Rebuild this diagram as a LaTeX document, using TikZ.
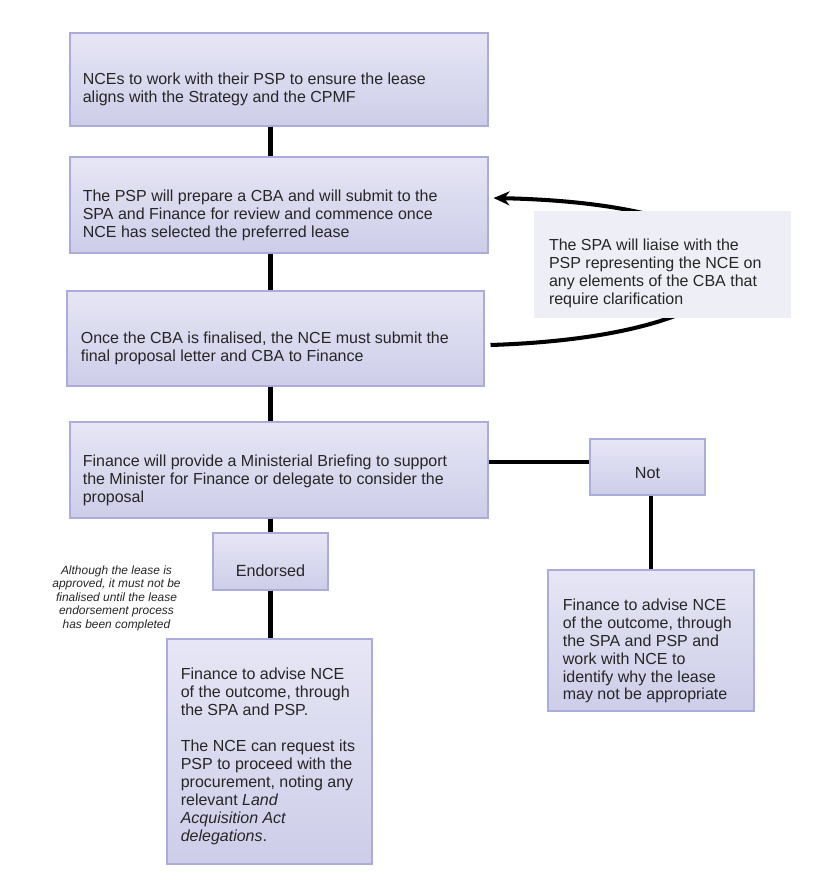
\documentclass[tikz,border=0pt]{standalone}
\usepackage{fontspec}
\setmainfont{Liberation Sans}
\usetikzlibrary{arrows.meta,positioning,calc}
\definecolor{boxtop}{RGB}{230,230,245}
\definecolor{boxbot}{RGB}{205,205,233}
\definecolor{boxline}{RGB}{172,172,220}
\definecolor{notefill}{RGB}{238,238,247}
\definecolor{txtgray}{RGB}{38,38,38}
\tikzset{
  stepbox/.style={draw=boxline, line width=0.6pt, top color=boxtop, bottom color=boxbot, inner sep=0pt},
  notebox/.style={fill=notefill, inner sep=0pt},
  boxtext/.style={inner sep=0pt, align=left, text=txtgray, font=\fontsize{9.1}{10.2}\selectfont},
  link/.style={line width=2.8pt, black},
}

\begin{document}
\begin{tikzpicture}
\useasboundingbox (0,0) rectangle (16.68,-17.66);
% main column
\node[stepbox, minimum width=8.36cm, minimum height=1.86cm] (b1) at (5.58 cm,-1.59cm) {};
\node[stepbox, minimum width=8.36cm, minimum height=1.92cm] (b2) at (5.58 cm,-4.10cm) {};
\node[stepbox, minimum width=8.34cm, minimum height=1.90cm] (b3) at (5.51 cm,-6.77cm) {};
\node[stepbox, minimum width=8.36cm, minimum height=1.92cm] (b4) at (5.58 cm,-9.40cm) {};
\node[stepbox, minimum width=2.30cm, minimum height=1.14cm] (endorsed) at (5.41 cm,-11.23cm) {};
\node[stepbox, minimum width=4.10cm, minimum height=4.50cm] (yes) at (5.39 cm,-15.03cm) {};
% right branch
\node[stepbox, minimum width=2.30cm, minimum height=1.12cm] (notok) at (12.95 cm,-9.34cm) {};
\node[stepbox, minimum width=4.12cm, minimum height=2.82cm] (no) at (13.02 cm,-12.81cm) {};

\node[boxtext, anchor=west] (t1) at ([xshift=0.26cm,yshift=-0.19cm]b1.west)
  {NCEs to work with their PSP to ensure the lease\\aligns with the Strategy and the CPMF};
\node[boxtext, anchor=west] (t2) at ([xshift=0.26cm,yshift=-0.20cm]b2.west)
  {The PSP will prepare a CBA and will submit to the\\SPA and Finance for review and commence once\\NCE has selected the preferred lease};
\node[boxtext, anchor=west] (t3) at ([xshift=0.28cm,yshift=-0.19cm]b3.west)
  {Once the CBA is finalised, the NCE must submit the\\final proposal letter and CBA to Finance};
\node[boxtext, anchor=west] (t4) at ([xshift=0.26cm,yshift=-0.20cm]b4.west)
  {Finance will provide a Ministerial Briefing to support\\the Minister for Finance or delegate to consider the\\proposal};
\node[boxtext, font=\fontsize{9.2}{11}\selectfont] (tend) at ([yshift=-0.19cm]endorsed.center) {Endorsed};
\node[boxtext, font=\fontsize{9.2}{11}\selectfont] (tnot) at ([yshift=-0.12cm]notok.center) {Not};
\node[boxtext, anchor=west] (tyes) at ([xshift=0.28cm,yshift=-0.10cm]yes.west)
  {Finance to advise NCE\\of the outcome, through\\the SPA and PSP.\\[10.2pt]The NCE can request its\\PSP to proceed with the\\procurement, noting any\\relevant \textit{Land}\\\textit{Acquisition Act}\\\textit{delegations}.};
\node[boxtext, anchor=west] (tno) at ([xshift=0.30cm,yshift=-0.21cm]no.west)
  {Finance to advise NCE\\of the outcome, through\\the SPA and PSP and\\work with NCE to\\identify why the lease\\may not be appropriate};

% side remark
\node[boxtext, align=center, font=\fontsize{6.8}{7.7}\selectfont\itshape] (remark) at (2.33 cm,-11.96cm)
  {Although the lease is\\approved, it must not be\\finalised until the lease\\endorsement process\\has been completed};

% feedback loop
\draw[line width=2.3pt, -{Stealth[length=0.32cm, width=0.28cm]}]
  ([shift={(0.12,-0.13)}]b3.east) .. controls (16.0,-6.70) and (16.3,-4.10) .. ([shift={(0.10,0.14)}]b2.east);
\node[notebox, minimum width=5.14cm, minimum height=2.14cm] (spa) at (13.25 cm,-5.29cm) {};
\node[boxtext, anchor=west] (tspa) at ([xshift=0.30cm,yshift=-0.18cm]spa.west)
  {The SPA will liaise with the\\PSP representing the NCE on\\any elements of the CBA that\\require clarification};

% connectors
\draw[link] (b1.south -| endorsed) -- (b2.north -| endorsed);
\draw[link] (b2.south -| endorsed) -- (b3.north -| endorsed);
\draw[link] (b3.south -| endorsed) -- (b4.north -| endorsed);
\draw[link] (b4.south -| endorsed) -- (endorsed.north);
\draw[link] (endorsed.south) -- (yes.north -| endorsed);
\draw[link] ([yshift=0.1cm]b4.east |- notok.west) -- ([yshift=0.1cm]notok.west);
\draw[link] (notok.south -| no) -- (no.north);
\end{tikzpicture}
\end{document}
